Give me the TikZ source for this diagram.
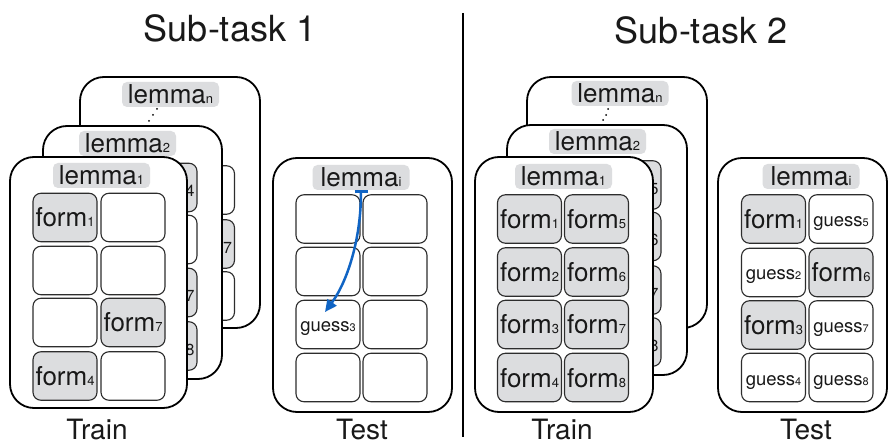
\documentclass[tikz,border=0pt]{standalone}
\usepackage{fontspec}
\setmainfont{TeX Gyre Heros}
\usetikzlibrary{arrows.meta}
\definecolor{cellgray}{RGB}{220,221,223}
\definecolor{cellline}{RGB}{45,45,45}
\definecolor{arrowblue}{RGB}{16,100,196}
\definecolor{txt}{RGB}{25,25,25}
\newcommand\bigf{\fontsize{26}{28}\selectfont}
\newcommand\smallf{\fontsize{18.5}{20}\selectfont}
\newcommand\subA[1]{{\fontsize{13}{13}\selectfont #1}}
\newcommand\subB[1]{{\fontsize{11}{11}\selectfont #1}}
\begin{document}
\begin{tikzpicture}[x=1pt,y=-1pt, text=txt,
  card/.style={draw=black, line width=1.8pt, fill=white, rounded corners=24pt, inner sep=0pt},
  cellbox/.style={draw=cellline, line width=1.1pt, rounded corners=8pt, inner sep=0pt,
    minimum width=64pt, minimum height=48.5pt, fill=white},
  fcell/.style={cellbox, fill=cellgray, font=\bigf, text height=19pt, text depth=0pt},
  hcell/.style={cellbox, fill=cellgray, font=\fontsize{16}{16}\selectfont, text width=59pt, align=right, text height=19pt, text depth=0pt},
  gcell/.style={cellbox, font=\smallf, text height=15pt, text depth=0pt},
  lem/.style={fill=cellgray, rounded corners=5pt, inner sep=0pt, minimum width=97pt,
    minimum height=25pt, font=\bigf, text height=19pt, text depth=0pt},
  title/.style={font=\fontsize{36}{40}\selectfont, anchor=base, inner sep=0pt},
  caption/.style={font=\fontsize{28}{30}\selectfont, anchor=base, inner sep=0pt},
  dotmark/.style={fill=black},
  blue arrow/.style={draw=arrowblue, line width=2.5pt, {Bar[width=13pt]}-{Triangle[length=12pt,width=11pt]}}
]
\useasboundingbox (0,0) rectangle (889,446);

% titles
\node[title] (t1) at (230,42) {Sub-task 1};
\node[title] (t2) at (701,44) {Sub-task 2};

% divider
\coordinate (dtop) at (463,13);
\coordinate (dbot) at (463,437);
\draw[line width=1.2pt] (dtop) -- (dbot);

% ===== Sub-task 1: train =====
% back card
\node[card, minimum width=180pt, minimum height=251pt] (s1b) at (170,202.5) {};
\node[lem] (s1blem) at (170.5,94.5) {lemma\subA{n}};
\node[cellbox] (s1b12) at (202.5,190) {};
\node[hcell] (s1b22) at (202.5,244) {7};
\node[cellbox] (s1b32) at (202.5,296) {};
\fill[dotmark] (157,109) circle (1);
\fill[dotmark] (153,115) circle (1);
\fill[dotmark] (149,121) circle (1);
% middle card
\node[card, minimum width=179pt, minimum height=253pt] (s1m) at (132.5,252.5) {};
\node[lem] (s1mlem) at (127.5,143.5) {lemma\subA{2}};
\node[hcell] (s1m12) at (165,187.5) {4};
\node[cellbox] (s1m22) at (165,239.5) {};
\node[hcell] (s1m32) at (165,292.5) {7};
\node[hcell] (s1m42) at (165,346) {8};
% front card
\node[card, minimum width=177pt, minimum height=251pt] (s1f) at (98.5,282.5) {};
\node[lem] (s1flem) at (101.5,175.5) {lemma\subA{1}};
\node[fcell] (s1f11) at (65,217.5) {form\subA{1}};
\node[cellbox] (s1f12) at (133,217.5) {};
\node[cellbox] (s1f21) at (65,270.5) {};
\node[cellbox] (s1f22) at (133,270.5) {};
\node[cellbox] (s1f31) at (65,322.5) {};
\node[fcell] (s1f32) at (133,322.5) {form\subA{7}};
\node[fcell] (s1f41) at (65,376) {form\subA{4}};
\node[cellbox] (s1f42) at (133,376) {};
\node[caption] (tr1) at (97,439) {Train};

% ===== Sub-task 1: test =====
\node[card, minimum width=179pt, minimum height=254pt] (t1c) at (362.5,285) {};
\node[lem] (t1lem) at (361,177.5) {lemma\subA{i}};
\node[cellbox] (t1c11) at (328,219) {};
\node[cellbox] (t1c12) at (395,219) {};
\node[cellbox] (t1c21) at (328,271.5) {};
\node[cellbox] (t1c22) at (395,271.5) {};
\node[gcell] (t1c31) at (328,324.5) {guess\subB{3}};
\node[cellbox] (t1c32) at (395,324.5) {};
\node[cellbox] (t1c41) at (328,377.5) {};
\node[cellbox] (t1c42) at (395,377.5) {};
\node[caption] (te1) at (362,439) {Test};
\draw[blue arrow] (t1lem.south) .. controls +(0,50) and +(22,-30) .. ([xshift=-3pt,yshift=12.5pt]t1c31.center);

% ===== Sub-task 2: train =====
\node[card, minimum width=180pt, minimum height=251pt] (s2b) at (617,202.5) {};
\node[lem] (s2blem) at (620,93.5) {lemma\subA{n}};
\fill[dotmark] (608,109) circle (1);
\fill[dotmark] (606,115) circle (1);
\fill[dotmark] (603,120) circle (1);
\node[card, minimum width=180pt, minimum height=250pt] (s2m) at (597,250) {};
\node[lem] (s2mlem) at (597.5,141.5) {lemma\subA{2}};
\node[hcell] (s2m12) at (629,185) {5};
\node[hcell] (s2m22) at (629,236.5) {6};
\node[hcell] (s2m32) at (629,290) {7};
\node[hcell] (s2m42) at (629,342) {8};
\node[card, minimum width=178pt, minimum height=255pt] (s2f) at (564,284.5) {};
\node[lem] (s2flem) at (563.5,176.5) {lemma\subA{1}};
\node[fcell] (s2f11) at (529.5,219) {form\subA{1}};
\node[fcell] (s2f12) at (596.5,219) {form\subA{5}};
\node[fcell] (s2f21) at (529.5,272) {form\subA{2}};
\node[fcell] (s2f22) at (596.5,272) {form\subA{6}};
\node[fcell] (s2f31) at (529.5,324.5) {form\subA{3}};
\node[fcell] (s2f32) at (596.5,324.5) {form\subA{7}};
\node[fcell] (s2f41) at (529.5,377.5) {form\subA{4}};
\node[fcell] (s2f42) at (596.5,377.5) {form\subA{8}};
\node[caption] (tr2) at (562,439) {Train};

% ===== Sub-task 2: test =====
\node[card, minimum width=169pt, minimum height=254pt] (t2c) at (802.5,285) {};
\node[lem] (t2lem) at (811,176.5) {lemma\subA{i}};
\node[fcell] (t2c11) at (773.5,219) {form\subA{1}};
\node[gcell] (t2c12) at (841,219) {guess\subB{5}};
\node[gcell] (t2c21) at (773.5,272.5) {guess\subB{2}};
\node[fcell] (t2c22) at (841,272.5) {form\subA{6}};
\node[fcell] (t2c31) at (773.5,325) {form\subA{3}};
\node[gcell] (t2c32) at (841,325) {guess\subB{7}};
\node[gcell] (t2c41) at (773.5,377.5) {guess\subB{4}};
\node[gcell] (t2c42) at (841,377.5) {guess\subB{8}};
\node[caption] (te2) at (806,439) {Test};
\end{tikzpicture}
\end{document}
